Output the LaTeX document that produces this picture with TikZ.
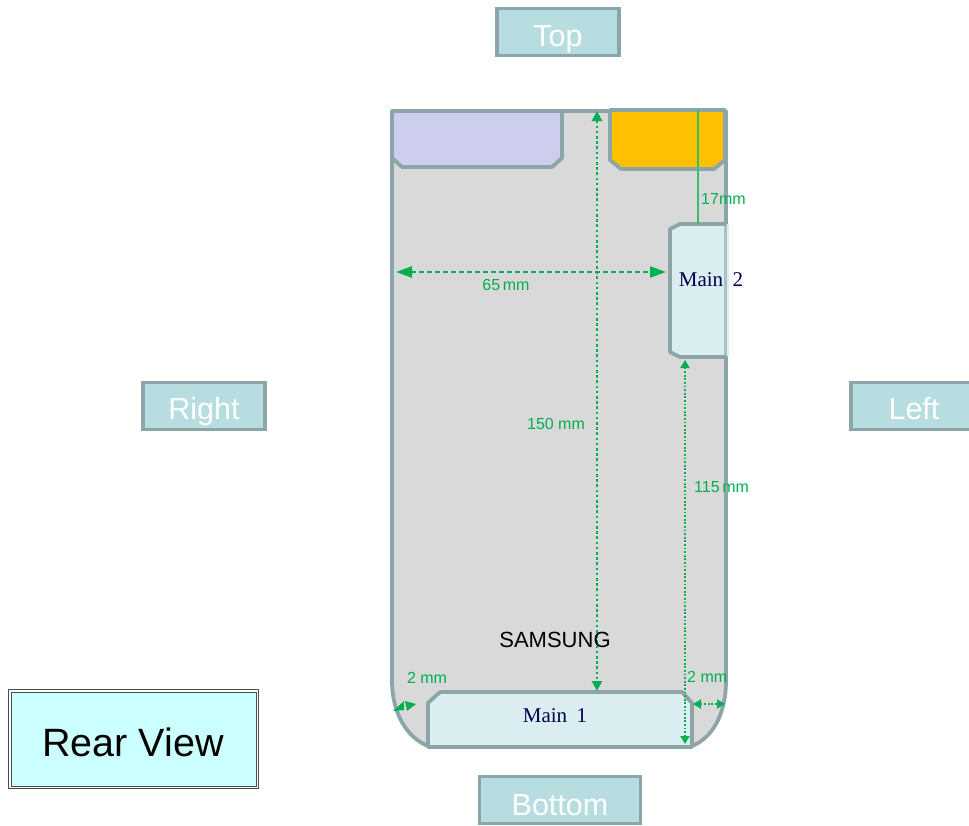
\documentclass[tikz,border=0pt]{standalone}
\usepackage{fontspec}
\setmainfont{Liberation Sans}
\newfontfamily\serifx[WordSpace=1.8]{Liberation Serif}
\usetikzlibrary{arrows.meta}
\definecolor{edge}{HTML}{8CA5A8}
\definecolor{dimg}{HTML}{00B050}
\definecolor{tagfill}{HTML}{B8DDE1}
\definecolor{body}{HTML}{D9D9D9}
\definecolor{lav}{HTML}{CDCDED}
\definecolor{amber}{HTML}{FFC000}
\definecolor{pale}{HTML}{DAEDF0}
\definecolor{rearf}{HTML}{CCFFFF}
\tikzset{
 outline/.style={draw=edge,line width=3.8pt,line join=round},
 tagbox/.style={draw=edge,fill=tagfill,line width=3.8pt,minimum width=122pt,minimum height=47pt,inner sep=0pt},
 tagtext/.style={text=white,font=\fontsize{30.5}{33}\selectfont,inner sep=0pt,anchor=base},
 dimtext/.style={text=dimg,font=\fontsize{16}{18}\selectfont,inner sep=0pt},
 mainlabel/.style={text=black!70!blue,font=\serifx\fontsize{21}{24}\selectfont,inner sep=0pt},
 dimdot/.style={dimg,line width=2.6pt,dash pattern=on 2.6pt off 2.6pt,{Triangle[length=10pt,width=10pt]}-{Triangle[length=10pt,width=10pt]}},
 dimthin/.style={dimg,line width=1.8pt,dash pattern=on 1.8pt off 1.8pt,{Triangle[length=8pt,width=9pt]}-{Triangle[length=8pt,width=9pt]}},
 dimdash/.style={dimg,line width=2.6pt,dash pattern=on 5pt off 3pt,{Triangle[length=16pt,width=11pt]}-{Triangle[length=16pt,width=11pt]}},
}
\begin{document}
\begin{tikzpicture}[x=1pt,y=-1pt]
\useasboundingbox (0,0) rectangle (969,825);
% body
\path[outline,fill=body] (392,111) -- (726,111) -- (726,680) .. controls (726,715) and (712,738) .. (692,746) -- (428,746) .. controls (408,738) and (392,715) .. (392,680) -- cycle;
% top pieces
\path[outline,fill=lav] (392,111) -- (562,111) -- (562,158) -- (552,167) -- (402,167) -- (392,158) -- cycle;
\path[outline,fill=amber] (610,110) -- (725,110) -- (725,160) -- (714,169) -- (621,169) -- (610,160) -- cycle;
% main 2
\path[fill=pale] (670,232) -- (680,224) -- (729,224) -- (729,356) -- (680,356) -- (670,350) -- cycle;
\draw[edge!70!white,line width=2.4pt] (725.5,224) -- (725.5,357);
\path[outline] (726,224) -- (680,224) -- (670,229) -- (670,352) -- (680,357) -- (726,357);
% main 1
\path[outline,fill=pale] (428,703) -- (440,692) -- (682,692) -- (692,703) -- (692,747) -- (428,747) -- cycle;
% coordinates
\coordinate (topEdge) at (597,111);
\coordinate (m1Top) at (597,691);
\coordinate (wl) at (396,272);
\coordinate (wr) at (666,272);
\coordinate (g17a) at (698,109);
\coordinate (g17b) at (698,224);
\coordinate (g115a) at (685,360);
\coordinate (g115b) at (685,744);
\coordinate (gra) at (693,704);
\coordinate (grb) at (725,704);
% dims
\draw[dimdot] (topEdge) -- (m1Top);
\draw[dimdash] (wl) -- (wr);
\draw[dimg!80!white,line width=1.4pt] (g17a) -- (g17b);
\draw[dimthin] (g115a) -- (g115b);
\path[fill=dimg] (393,711) -- (404,701) -- (404,710) -- cycle;
\path[fill=dimg] (416,704) -- (405,701) -- (407,711) -- cycle;
\draw[dimthin] (gra) -- (grb);
% labels
\node[dimtext,anchor=west] (t17) at (701,199) {17mm};
\node[dimtext] (t65) at (506,285) {65\,mm};
\node[dimtext] (t150) at (556,424) {150 mm};
\node[dimtext,anchor=west] (t115) at (694,487) {115\,mm};
\node[dimtext] (t2l) at (427,678) {2 mm};
\node[dimtext,anchor=west] (t2r) at (687,677) {2 mm};
\node[mainlabel] (m2) at (711,280) {Main 2};
\node[mainlabel] (m1) at (555,716) {Main 1};
\node[inner sep=0pt,font=\fontsize{22}{25}\selectfont] (sam) at (555,640) {SAMSUNG};
% tags
\node[tagbox] (top) at (558,32) {};
\node[tagbox] (right) at (204,406) {};
\node[tagbox] (left) at (912,406) {};
\node[tagbox,minimum width=161pt] (bottom) at (560,800) {};
\node[tagtext] (toplbl) at (558,46) {Top};
\node[tagtext] (rightlbl) at (204,419) {Right};
\node[tagtext] (leftlbl) at (914,419) {Left};
\node[tagtext] (bottomlbl) at (560,815) {Bottom};
% rear view
\draw[black!70,line width=.9pt] (8.5,689.5) rectangle (258.5,788.5);
\draw[black!70,line width=.9pt,fill=rearf] (11,692) rectangle (256,786);
\node[inner sep=0pt,font=\fontsize{39.5}{42}\selectfont] (rearl) at (133,742) {Rear View};
\end{tikzpicture}
\end{document}
